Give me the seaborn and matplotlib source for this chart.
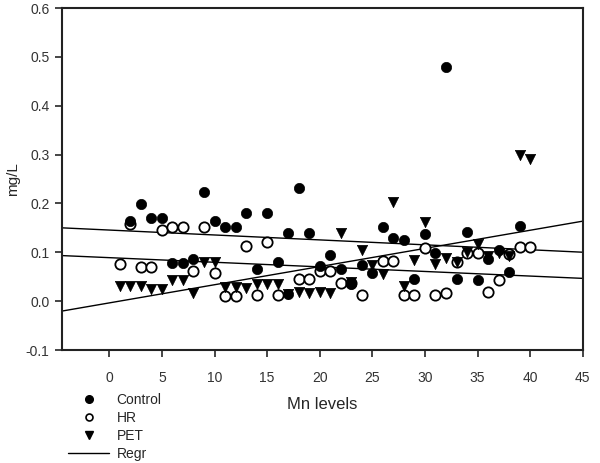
import numpy as np
import pandas as pd
import matplotlib
matplotlib.use("Agg")
import matplotlib.pyplot as plt
from matplotlib.lines import Line2D
import seaborn as sns

# ---- data ----
control_x = [2, 3, 4, 5, 6, 7, 8, 9, 10, 11, 12, 13, 14, 15, 16, 17, 17, 18, 19, 20,
             21, 22, 23, 24, 25, 26, 27, 28, 29, 30, 31, 32, 33, 34, 35, 36, 37, 38, 39]
control_y = [0.165, 0.198, 0.171, 0.171, 0.079, 0.079, 0.086, 0.223, 0.164, 0.151,
             0.151, 0.181, 0.065, 0.181, 0.080, 0.139, 0.014, 0.231, 0.139, 0.072,
             0.095, 0.065, 0.035, 0.075, 0.057, 0.152, 0.130, 0.126, 0.046, 0.138,
             0.099, 0.479, 0.046, 0.142, 0.044, 0.087, 0.105, 0.060, 0.153]

hr_x = [1, 2, 3, 4, 5, 6, 7, 8, 9, 10, 11, 12, 13, 14, 15, 16, 18, 19, 20, 21,
        22, 23, 24, 26, 27, 28, 29, 30, 31, 32, 33, 34, 35, 36, 37, 38, 39, 40]
hr_y = [0.077, 0.158, 0.069, 0.069, 0.145, 0.151, 0.151, 0.062, 0.151, 0.058,
        0.011, 0.011, 0.112, 0.012, 0.121, 0.012, 0.046, 0.046, 0.061, 0.061,
        0.038, 0.038, 0.012, 0.082, 0.082, 0.012, 0.012, 0.109, 0.012, 0.016,
        0.080, 0.098, 0.098, 0.018, 0.043, 0.097, 0.110, 0.110]

pet_x = list(range(1, 41))
pet_y = [0.031, 0.031, 0.031, 0.024, 0.024, 0.043, 0.043, 0.017, 0.080, 0.080,
         0.028, 0.028, 0.026, 0.035, 0.035, 0.035, 0.014, 0.019, 0.017, 0.019,
         0.017, 0.140, 0.040, 0.104, 0.075, 0.055, 0.202, 0.031, 0.085, 0.162,
         0.076, 0.089, 0.080, 0.100, 0.118, 0.092, 0.098, 0.093, 0.300, 0.290]

series_names = ["Control", "HR", "PET"]
x_ticks = [0, 5, 10, 15, 20, 25, 30, 35, 40, 45]
y_ticks = [-0.1, 0.0, 0.1, 0.2, 0.3, 0.4, 0.5, 0.6]

sns.set_style("ticks")
plt.rcParams["font.family"] = ["Liberation Sans", "DejaVu Sans"]

fig = plt.figure(figsize=(6.0, 4.63), dpi=100)
ax = fig.add_axes([0.1033, 0.244, 0.868, 0.7387])
ax.set_xlim(-4.5, 45)
ax.set_ylim(-0.1, 0.6)

df_c = pd.DataFrame({"x": control_x, "y": control_y})
df_h = pd.DataFrame({"x": hr_x, "y": hr_y})
df_p = pd.DataFrame({"x": pet_x, "y": pet_y})

msize = 55
sns.scatterplot(data=df_h, x="x", y="y", ax=ax, marker="o", s=msize,
                facecolor="white", edgecolor="black", linewidth=1.3, zorder=3)
sns.scatterplot(data=df_c, x="x", y="y", ax=ax, marker="o", s=msize,
                color="black", edgecolor="black", linewidth=0.5, zorder=4)
sns.scatterplot(data=df_p, x="x", y="y", ax=ax, marker="v", s=msize,
                color="black", edgecolor="black", linewidth=0.5, zorder=5)

for d in (df_c, df_h, df_p):
    sns.regplot(data=d, x="x", y="y", ax=ax, scatter=False, ci=None,
                truncate=False, color="black", line_kws={"lw": 1.0, "zorder": 2})

ax.set_xlim(-4.5, 45)
ax.set_ylim(-0.1, 0.6)
ax.set_xticks(x_ticks)
ax.set_yticks(y_ticks)
ax.set_yticklabels([f"{v:.1f}" for v in y_ticks])
ax.tick_params(axis="x", direction="out", length=5, width=1.2, pad=10,
               labelsize=10, labelcolor="#333333", top=False)
ax.tick_params(axis="y", direction="out", length=5, width=1.2, pad=4,
               labelsize=10, labelcolor="#333333", right=False)
for sp in ax.spines.values():
    sp.set_visible(True)
    sp.set_linewidth(1.5)
    sp.set_color("#222222")

ax.set_xlabel("Mn levels", fontsize=12, labelpad=9)
ax.set_ylabel("mg/L", fontsize=11, labelpad=4)

handles = [
    Line2D([], [], marker="o", linestyle="none", color="black", markersize=5.5),
    Line2D([], [], marker="o", linestyle="none", markerfacecolor="white",
           markeredgecolor="black", markeredgewidth=1.2, markersize=5),
    Line2D([], [], marker="v", linestyle="none", color="black", markersize=6),
    Line2D([], [], color="black", lw=1.0),
]
fig.legend(handles, series_names + ["Regr"], loc="upper left",
           bbox_to_anchor=(0.113, 0.151), frameon=False, fontsize=10,
           handlelength=3.0, handletextpad=0.5, labelspacing=0.28,
           borderaxespad=0.0, borderpad=0.0)

fig.savefig("out.png", dpi=100)
